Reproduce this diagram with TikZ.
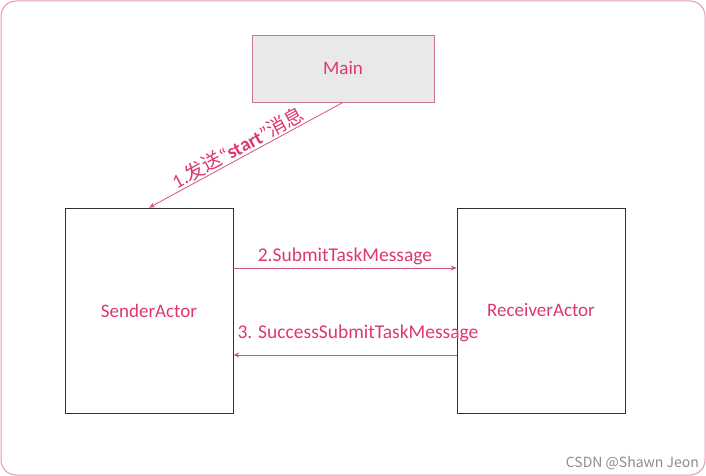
\documentclass[tikz,border=0pt]{standalone}
\usepackage{fontspec}
\setmainfont{Carlito}
\newfontfamily\cjk{Noto Sans CJK SC}
\usetikzlibrary{arrows.meta}
\definecolor{msgpink}{RGB}{221,56,108}
\definecolor{linepink}{RGB}{205,85,130}
\definecolor{framepink}{RGB}{232,150,180}
\definecolor{mainfill}{RGB}{233,233,233}
\definecolor{mainline}{RGB}{200,120,150}
\tikzset{
  actor/.style={draw=black!80,line width=0.6pt,fill=white,minimum width=168pt,minimum height=205pt,
    inner sep=0pt,text=msgpink,font=\fontsize{19}{22}\selectfont},
  mainbox/.style={draw=mainline,line width=0.8pt,fill=mainfill,minimum width=182pt,minimum height=67pt,
    inner sep=0pt,text=msgpink,font=\fontsize{19}{22}\selectfont},
  msg/.style={draw=linepink,line width=0.8pt,-{Stealth[length=6pt,width=5pt]}},
  msglabel/.style={text=msgpink,font=\fontsize{19.5}{22}\selectfont,inner sep=2pt}
}
\begin{document}
\begin{tikzpicture}[x=1pt,y=-1pt]
\path[use as bounding box] (0,0) rectangle (706,476);
\draw[framepink,line width=1pt,rounded corners=15pt] (1,1) rectangle (705,475);
% boxes
\node[mainbox] (main) at (343,68.5) {Main};
\node[actor] (sender) at (149,310.5) {SenderActor};
\node[actor] (receiver) at (541,310.5) {ReceiverActor};
% messages
\draw[msg] (main.south) -- node[sloped,above,msglabel,yshift=-1pt,xshift=-4pt] {1.{\cjk 发送}“\textbf{start}”{\cjk 消息}} (sender.north);
\draw[msg] (sender.east |- 0,268) -- node[above,msglabel,yshift=1pt] {2.SubmitTaskMessage} (receiver.west |- 0,268);
\draw[msg] (receiver.west |- 0,355) -- (sender.east |- 0,355);
\node[msglabel,anchor=base] (succ) at (358,338) {3. SuccessSubmitTaskMessage};
\node[anchor=base east,text=black!45,font=\cjk\fontsize{14}{16}\selectfont,inner sep=0pt] (mark) at (699,467) {CSDN @Shawn Jeon};
\end{tikzpicture}
\end{document}
